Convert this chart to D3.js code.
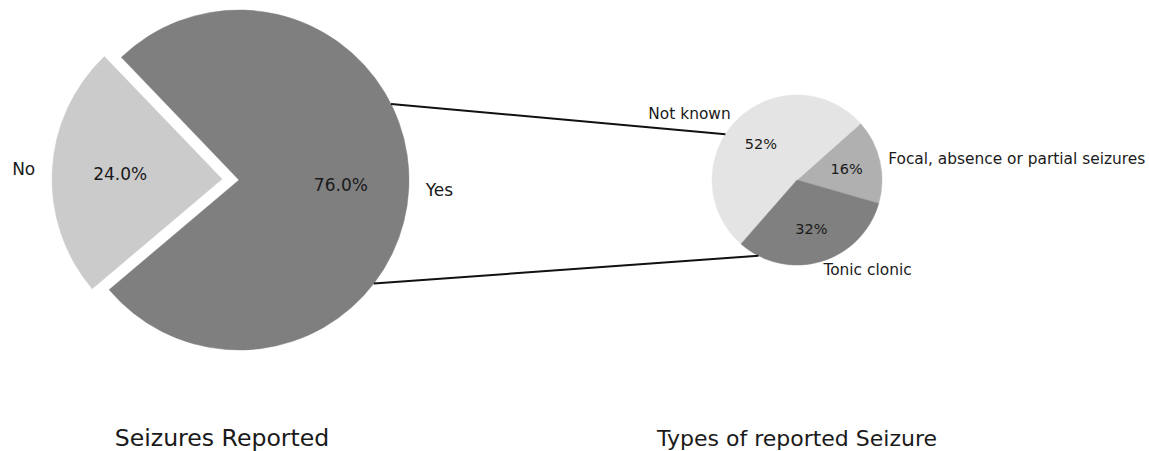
<!DOCTYPE html>
<html>
<head>
<meta charset="utf-8">
<script src="https://cdn.jsdelivr.net/npm/d3@7/dist/d3.min.js"></script>
<style>
  body { margin: 0; background: #fff; }
  text { font-family: "DejaVu Sans", sans-serif; fill: #1a1a1a; }
</style>
</head>
<body>
<svg id="chart" width="1149" height="451"></svg>
<script>
// ---- data ----
const overallLabels = ["Yes", "No"];
const overallValues = [76, 24];
const overallPctText = ["76.0%", "24.0%"];
const typeLabels = ["Focal, absence or partial seizures", "Not known", "Tonic clonic"];
const typeValues = [16, 52, 32];
const typePctText = ["16%", "52%", "32%"];
const titles = ["Seizures Reported", "Types of reported Seizure"];

// ---- layout / style ----
const svg = d3.select("#chart");
const deg = Math.PI / 180;
const big = { cx: 239, cy: 180, r: 170, start: -139.8, colors: ["#7f7f7f", "#cbcbcb"], explode: [0, 0.1],
  labelSize: 17, pctSize: 17 };
const small = { cx: 797, cy: 180, r: 85, start: -16, colors: ["#b0b0b0", "#e4e4e4", "#808080"], explode: [0, 0, 0],
  labelSize: 15.4, pctSize: 14.5 };

function drawPie(cfg, labels, values, pctText) {
  // matplotlib-style: counterclockwise from math angle `start`
  const s = (90 - cfg.start) * deg;
  const pie = d3.pie().sort(null).value(d => d).startAngle(s).endAngle(s - 2 * Math.PI);
  const arcs = pie(values);
  const arc = d3.arc().innerRadius(0).outerRadius(cfg.r);
  const g = svg.append("g").attr("transform", `translate(${cfg.cx},${cfg.cy})`);
  arcs.forEach((a, i) => {
    const mid = (a.startAngle + a.endAngle) / 2;
    const ux = Math.sin(mid), uy = -Math.cos(mid);
    const off = cfg.explode[i] * cfg.r;
    const gx = ux * off, gy = uy * off;
    g.append("path")
      .attr("d", arc(a))
      .attr("transform", `translate(${gx},${gy})`)
      .attr("fill", cfg.colors[i])
      .attr("stroke", cfg.colors[i])
      .attr("stroke-width", 0.5);
    const lx = gx + ux * cfg.r * 1.1, ly = gy + uy * cfg.r * 1.1;
    g.append("text")
      .attr("x", lx).attr("y", ly)
      .attr("text-anchor", ux >= 0 ? "start" : "end")
      .attr("dominant-baseline", "central")
      .attr("font-size", cfg.labelSize)
      .text(labels[i]);
    g.append("text")
      .attr("x", gx + ux * cfg.r * 0.6).attr("y", gy + uy * cfg.r * 0.6)
      .attr("text-anchor", "middle")
      .attr("dominant-baseline", "central")
      .attr("font-size", cfg.pctSize)
      .text(pctText[i]);
  });
}

drawPie(big, overallLabels, overallValues, overallPctText);
drawPie(small, typeLabels, typeValues, typePctText);

// connection lines (math angles on each pie)
const conns = [[26.6, 147.4], [-37.5, 243]];
conns.forEach(([a1, a2]) => {
  svg.append("line")
    .attr("x1", big.cx + big.r * Math.cos(a1 * deg))
    .attr("y1", big.cy - big.r * Math.sin(a1 * deg))
    .attr("x2", small.cx + small.r * Math.cos(a2 * deg))
    .attr("y2", small.cy - small.r * Math.sin(a2 * deg))
    .attr("stroke", "#111")
    .attr("stroke-width", 2);
});

// titles
[[222, titles[0], 23.6], [797, titles[1], 22]].forEach(([x, t, fs]) => {
  svg.append("text")
    .attr("x", x).attr("y", 446)
    .attr("text-anchor", "middle")
    .attr("font-size", fs)
    .text(t);
});
</script>
</body>
</html>
